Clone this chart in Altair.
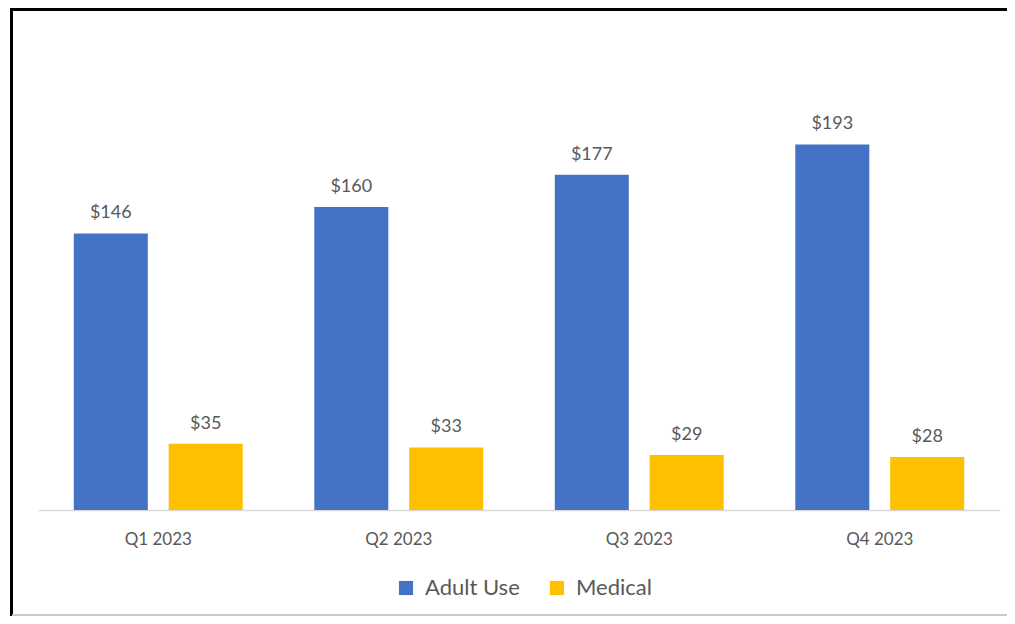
import altair as alt
import pandas as pd

quarters = ["Q1 2023", "Q2 2023", "Q3 2023", "Q4 2023"]
series = ["Adult Use", "Medical"]
adult_use = [146, 160, 177, 193]
medical = [35, 33, 29, 28]
colors = ["#4472C4", "#FFC000"]

rows = []
for q, a, m in zip(quarters, adult_use, medical):
    rows.append({"quarter": q, "segment": series[0], "value": a, "label": f"${a}"})
    rows.append({"quarter": q, "segment": series[1], "value": m, "label": f"${m}"})
df = pd.DataFrame(rows)

FONT = "Lato"
GRAY = "#595959"
W, H = 962, 502

x_enc = alt.X("quarter:N", sort=quarters, title=None,
              scale=alt.Scale(paddingInner=0, paddingOuter=0),
              axis=alt.Axis(labelAngle=0, labelFontSize=17, labelColor=GRAY, labelFont=FONT,
                            labelPadding=21, ticks=False, domainColor="#D9D9D9", domainWidth=1.5))
xoff = alt.XOffset("segment:N", sort=series,
                   scale=alt.Scale(paddingInner=0.22, paddingOuter=0.377))
y_enc = alt.Y("value:Q", title=None,
              scale=alt.Scale(domain=[0, 265], nice=False, zero=True),
              axis=None)

bars = alt.Chart(df).mark_bar().encode(
    x=x_enc, xOffset=xoff, y=y_enc,
    color=alt.Color("segment:N", sort=series,
                    scale=alt.Scale(domain=series, range=colors),
                    legend=alt.Legend(title=None, orient="none", direction="horizontal",
                                      legendX=357, legendY=569, labelFontSize=22,
                                      labelFont=FONT, labelColor=GRAY, symbolType="square",
                                      symbolSize=200, symbolStrokeWidth=0, columnPadding=26,
                                      labelOffset=8)),
)

labels = alt.Chart(df).mark_text(baseline="bottom", dy=-11, fontSize=18, font=FONT, color=GRAY).encode(
    x=alt.X("quarter:N", sort=quarters), xOffset=alt.XOffset("segment:N", sort=series), y="value:Q",
    text="label:N",
)

frame_top = alt.Chart(df).mark_rule(color="black", strokeWidth=3).encode(
    x=alt.value(-28), x2=alt.value(W + 20), y=alt.value(1))
frame_left = alt.Chart(df).mark_rule(color="black", strokeWidth=3).encode(
    x=alt.value(-26.5), y=alt.value(0), y2=alt.value(H + 106))
frame_bottom = alt.Chart(df).mark_rule(color="#C8C8C8", strokeWidth=1.5).encode(
    x=alt.value(-26), x2=alt.value(W + 20), y=alt.value(H + 105))

chart = alt.layer(bars, labels, frame_top, frame_left, frame_bottom).properties(
    width=W, height=H,
    background="white",
    autosize=alt.AutoSizeParams(type="none"),
    padding={"left": 30, "top": 0, "right": 7, "bottom": 106},
).configure_view(stroke=None)

chart.save("out.html", embed_options={"renderer": "svg", "actions": False})
